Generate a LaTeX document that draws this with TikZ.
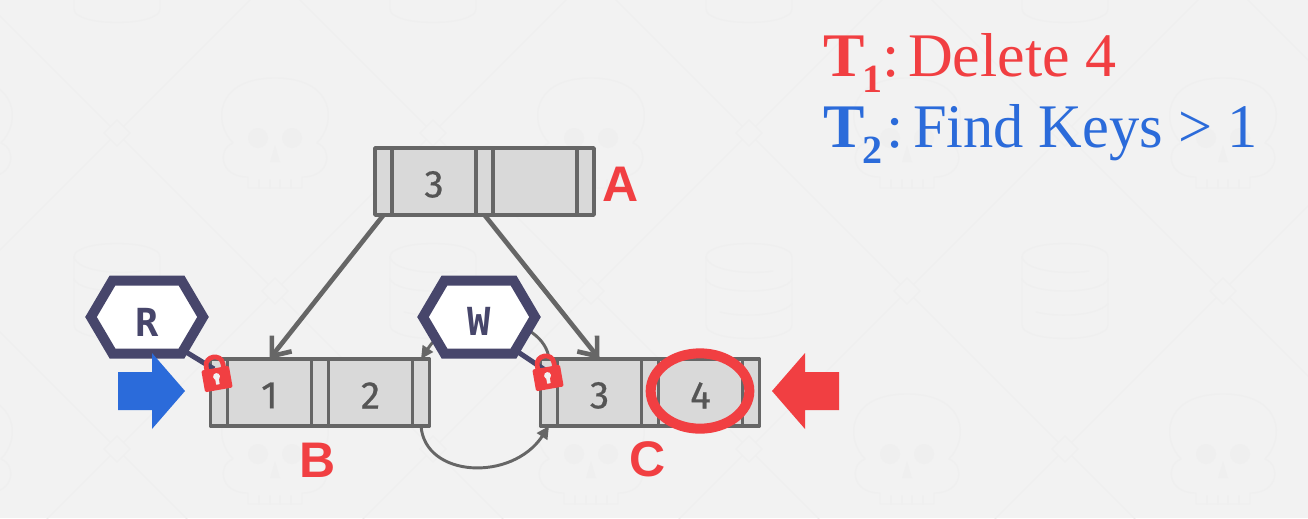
\documentclass[tikz,border=0pt]{standalone}
\usepackage{fontspec}
\usetikzlibrary{arrows.meta,shapes.geometric}
\setmainfont{Liberation Serif}
\newfontfamily\labelfont{Liberation Sans}
\newfontfamily\keyfont[FakeBold=0.6]{Fira Sans}
\newfontfamily\latchfont{DejaVu Sans Mono}
\definecolor{bgc}{HTML}{F2F2F2}
\definecolor{wmc}{HTML}{EFEFEF}
\definecolor{linec}{HTML}{666666}
\definecolor{cellc}{HTML}{D9D9D9}
\definecolor{keyc}{HTML}{555555}
\definecolor{latchc}{HTML}{47466B}
\definecolor{redc}{HTML}{F13F42}
\definecolor{bluec}{HTML}{2B6BDA}
\tikzset{
  every node/.style={inner sep=0pt,outer sep=0pt},
  wm/.style={draw=wmc,line width=1pt,line cap=round,line join=round},
  padcell/.style={draw=linec,fill=cellc,line width=2.6pt,line join=round,minimum width=12.75pt,minimum height=50.25pt,anchor=north west},
  keycell/.style={padcell,minimum width=63pt},
  keytext/.style={font=\keyfont\fontsize{29pt}{29pt}\selectfont,text=keyc,yshift=-2.2pt},
  tagtext/.style={font=\labelfont\bfseries\fontsize{37.5pt}{37.5pt}\selectfont,text=redc,anchor=base},
  latchtext/.style={font=\latchfont\bfseries\fontsize{29pt}{29pt}\selectfont,text=latchc,anchor=base},
  bigptr/.style={draw=linec,line width=3.5pt,-{Straight Barb[length=12pt,width=19pt,line width=3.5pt]}},
  thinptr/.style={draw=linec,line width=2.2pt,-{Triangle[length=9.5pt,width=9pt]}},
  latchline/.style={draw=latchc,line width=3.8pt},
  titletext/.style={font=\fontsize{46.5pt}{46.5pt}\selectfont,anchor=base west},
}
\newcommand{\skullmark}[2]{%
  \begin{scope}[shift={(#1,#2)}]
    \path[wm] (-42,10) .. controls (-62,-10) and (-60,-55) .. (0,-55) .. controls (60,-55) and (62,-10) .. (42,10) .. controls (56,14) and (58,44) .. (27,44) -- (27,55) -- (-27,55) -- (-27,44) .. controls (-58,44) and (-56,14) .. (-42,10);
    \fill[wmc] (-17,5) circle[radius=7.5pt] (17,5) circle[radius=7.5pt];
    \fill[wmc] (0,12) -- (-5,29) -- (5,29) -- cycle;
    \path[wm] (-16,47) -- (-16,55) (-5,47) -- (-5,55) (5,47) -- (5,55) (16,47) -- (16,55);
  \end{scope}}
\newcommand{\dbmark}[2]{%
  \begin{scope}[shift={(#1,#2)}]
    \path[wm] (-43,-34) .. controls (-43,-52) and (43,-52) .. (43,-34) -- (43,34) .. controls (43,52) and (-43,52) .. (-43,34) -- cycle;
    \path[wm] (-43,-34) .. controls (-40,-20) and (0,-16) .. (24,-20);
    \path[wm] (-43,-12) .. controls (-38,4) and (38,4) .. (43,-12);
    \path[wm] (-29,21) .. controls (-10,26) and (30,26) .. (43,13);
  \end{scope}}
\newcommand{\bplusnode}[5]{% name, x, y, key1, key2
  \node[padcell] (#10) at (#2,#3) {};
  \node[keycell,label={[keytext]center:#4}] (#11) at ({#2+17},#3) {};
  \node[padcell] (#12) at ({#2+101},#3) {};
  \node[keycell,label={[keytext]center:#5}] (#13) at ({#2+118},#3) {};
  \node[padcell] (#14) at ({#2+202},#3) {};}
\newcommand{\hexframe}[2]{%
  \draw[draw=latchc,fill=white,line width=7.5pt,miter limit=10]
    ({#1-56},#2) -- ({#1-34.5},{#2-36.5}) -- ({#1+34.5},{#2-36.5}) -- ({#1+56},#2) -- ({#1+34.5},{#2+36.5}) -- ({#1-34.5},{#2+36.5}) -- cycle;}
\newcommand{\lockicon}[2]{%
  \begin{scope}[shift={(#1,#2)},rotate=10]
    \draw[redc,line width=3.6pt] (-8.5,-9) -- (-8.5,-14) .. controls (-8.5,-25) and (8.5,-25) .. (8.5,-14) -- (8.5,-9);
    \fill[redc,rounded corners=1pt] (-14,-11) rectangle (14,11);
    \fill[bgc] (0,-2.5) circle[radius=2.6pt];
    \fill[bgc] (-1.8,-2) rectangle (1.8,5.5);
  \end{scope}}
\begin{document}
\begin{tikzpicture}[x=0.75pt,y=-0.75pt]
\useasboundingbox (0,0) rectangle (1308,518);
\fill[bgc] (0,0) rectangle (1308,518);
\begin{scope}
  \clip (0,0) rectangle (1308,518);
  \foreach \k in {-2,...,4} \draw[wmc,line width=1pt] ({-116+316*\k},-100) -- ({604+316*\k},620);
  \foreach \k in {-1,...,6} \draw[wmc,line width=1pt] ({350+316*\k},-100) -- ({-370+316*\k},620);
  \foreach \x in {117,433,749,1065} \foreach \y in {133,449}
    \draw[wmc,fill=bgc,line width=1pt] (\x-13,\y) -- (\x,\y-13) -- (\x+13,\y) -- (\x,\y+13) -- cycle;
  \foreach \x in {-41,275,591,907,1223} \foreach \y in {-25,291}
    \draw[wmc,fill=bgc,line width=1pt] (\x-13,\y) -- (\x,\y-13) -- (\x+13,\y) -- (\x,\y+13) -- cycle;
  \foreach \x in {-41,275,591,907,1223} \foreach \y in {133,449} {\skullmark{\x}{\y}}
  \foreach \x in {117,433,749,1065} \foreach \y in {-25,291} {\dbmark{\x}{\y}}
\end{scope}

\bplusnode{A}{375}{148}{3}{}
\bplusnode{B}{210.5}{359}{1}{2}
\bplusnode{C}{540.5}{359}{3}{4}

\draw[bigptr] (A0.south) -- (B1.north);
\draw[bigptr] (A2.south) -- (C1.north);
\draw[thinptr] (B4.south) .. controls (425,478) and (512,482) .. (C0.south);
\draw[thinptr] (C0.north) .. controls (545,318) and (460,300) .. (B4.north);

\coordinate (Rcorner) at (186,352);
\coordinate (Wcorner) at (518,352);
\coordinate (Rlock) at (214,369);
\coordinate (Wlock) at (545,370);
\draw[latchline] (Rcorner) -- (Rlock);
\draw[latchline] (Wcorner) -- (Wlock);
\hexframe{147}{317}
\hexframe{479}{317}
\node[latchtext] (Rtext) at (147.5,336) {R};
\node[latchtext] (Wtext) at (479.5,335.5) {W};
\lockicon{217}{379}
\lockicon{548}{378}

\fill[bluec] (118,372) -- (152,372) -- (152,353) -- (185,391) -- (152,429) -- (152,410) -- (118,410) -- cycle;
\fill[redc] (839,372) -- (805,372) -- (805,353) -- (772,391) -- (805,429) -- (805,410) -- (839,410) -- cycle;
\node[draw=redc,line width=7.5pt,ellipse,minimum width=74pt,minimum height=56.5pt] (mark) at (700,391) {};

\node[tagtext] (tagA) at (621,201) {A};
\node[tagtext] (tagB) at (317.5,477) {B};
\node[tagtext] (tagC) at (647.5,476.5) {C};

\node[titletext,text=redc] (t1) at (823,76) {\textbf{T}\kern-1.5pt\raisebox{-12pt}{\fontsize{30pt}{30pt}\selectfont\textbf{1}}};
\node[titletext,text=redc] (t1c) at (882,76) {:};
\node[titletext,text=redc] (t1b) at (908,76) {Delete 4};
\node[titletext,text=bluec] (t2) at (823,147) {\textbf{T}\kern-1.5pt\raisebox{-12pt}{\fontsize{30pt}{30pt}\selectfont\textbf{2}}};
\node[titletext,text=bluec] (t2c) at (886,147) {:};
\node[titletext,text=bluec] (t2b) at (913,147) {\addfontfeature{FakeStretch=0.975}Find Keys > 1};
\end{tikzpicture}
\end{document}
